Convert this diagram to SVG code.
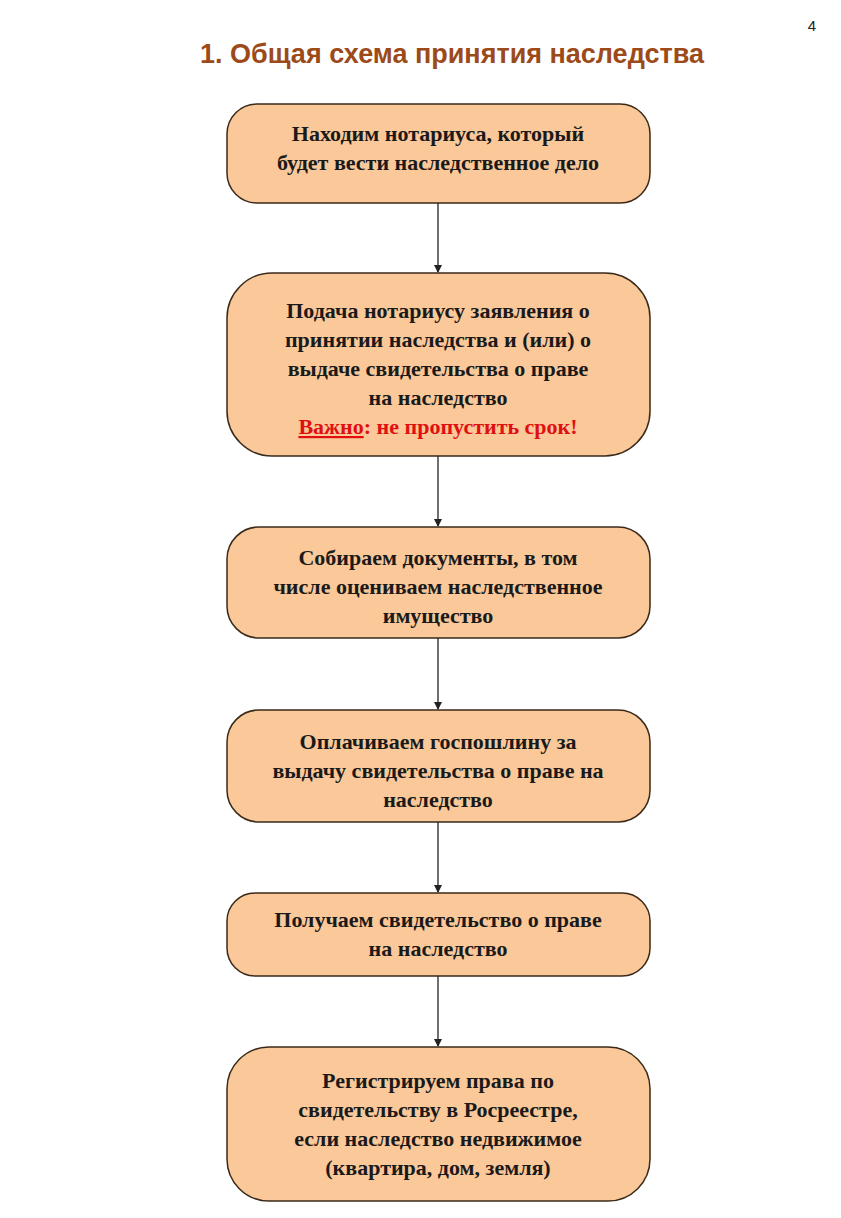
<svg xmlns="http://www.w3.org/2000/svg" width="841" height="1218" viewBox="0 0 841 1218">
<style>
.box{fill:#FBC899;stroke:#3A2A1A;stroke-width:1.5}
.t{font-family:"Liberation Serif",serif;font-weight:bold;font-size:22px;fill:#1a1a1a;text-anchor:middle}
.c{stroke:#222;stroke-width:1.3;fill:none;marker-end:url(#a)}
</style>
<defs><marker id="a" markerWidth="8" markerHeight="8" refX="7" refY="4" orient="auto" markerUnits="userSpaceOnUse"><path d="M0,0L8,4L0,8z" fill="#222"/></marker></defs>
<rect width="841" height="1218" fill="#fff"/>
<text x="812" y="31" font-family="Liberation Sans,sans-serif" font-size="15" fill="#222" text-anchor="middle">4</text>
<text x="452" y="63" font-family="Liberation Sans,sans-serif" font-size="27" font-weight="bold" fill="#9C4A1A" text-anchor="middle">1. Общая схема принятия наследства</text>
<g id="connectors">
<line class="c" x1="438" y1="203" x2="438" y2="272"/>
<line class="c" x1="438" y1="456" x2="438" y2="526"/>
<line class="c" x1="438" y1="638" x2="438" y2="709"/>
<line class="c" x1="438" y1="822" x2="438" y2="892"/>
<line class="c" x1="438" y1="976" x2="438" y2="1046"/>
</g>
<g id="n1"><rect class="box" x="227" y="104" width="423" height="99" rx="30"/>
<text class="t" x="438" y="141">Находим нотариуса, который</text>
<text class="t" x="438" y="170">будет вести наследственное дело</text></g>
<g id="n2"><rect class="box" x="227" y="273" width="423" height="183" rx="45"/>
<text class="t" x="438" y="318">Подача нотариусу заявления о</text>
<text class="t" x="438" y="347">принятии наследства и (или) о</text>
<text class="t" x="438" y="376">выдаче свидетельства о праве</text>
<text class="t" x="438" y="405">на наследство</text>
<text class="t" x="438" y="434" fill="#E01010" style="fill:#E01010"><tspan text-decoration="underline">Важно</tspan>: не пропустить срок!</text></g>
<g id="n3"><rect class="box" x="227" y="527" width="423" height="111" rx="32"/>
<text class="t" x="438" y="565">Собираем документы, в том</text>
<text class="t" x="438" y="594">числе оцениваем наследственное</text>
<text class="t" x="438" y="623">имущество</text></g>
<g id="n4"><rect class="box" x="227" y="710" width="423" height="112" rx="32"/>
<text class="t" x="438" y="749">Оплачиваем госпошлину за</text>
<text class="t" x="438" y="778">выдачу свидетельства о праве на</text>
<text class="t" x="438" y="807">наследство</text></g>
<g id="n5"><rect class="box" x="227" y="893" width="423" height="83" rx="28"/>
<text class="t" x="438" y="927">Получаем свидетельство о праве</text>
<text class="t" x="438" y="956">на наследство</text></g>
<g id="n6"><rect class="box" x="227" y="1047" width="423" height="154" rx="42"/>
<text class="t" x="438" y="1088">Регистрируем права по</text>
<text class="t" x="438" y="1117">свидетельству в Росреестре,</text>
<text class="t" x="438" y="1146">если наследство недвижимое</text>
<text class="t" x="438" y="1175">(квартира, дом, земля)</text></g>
</svg>
